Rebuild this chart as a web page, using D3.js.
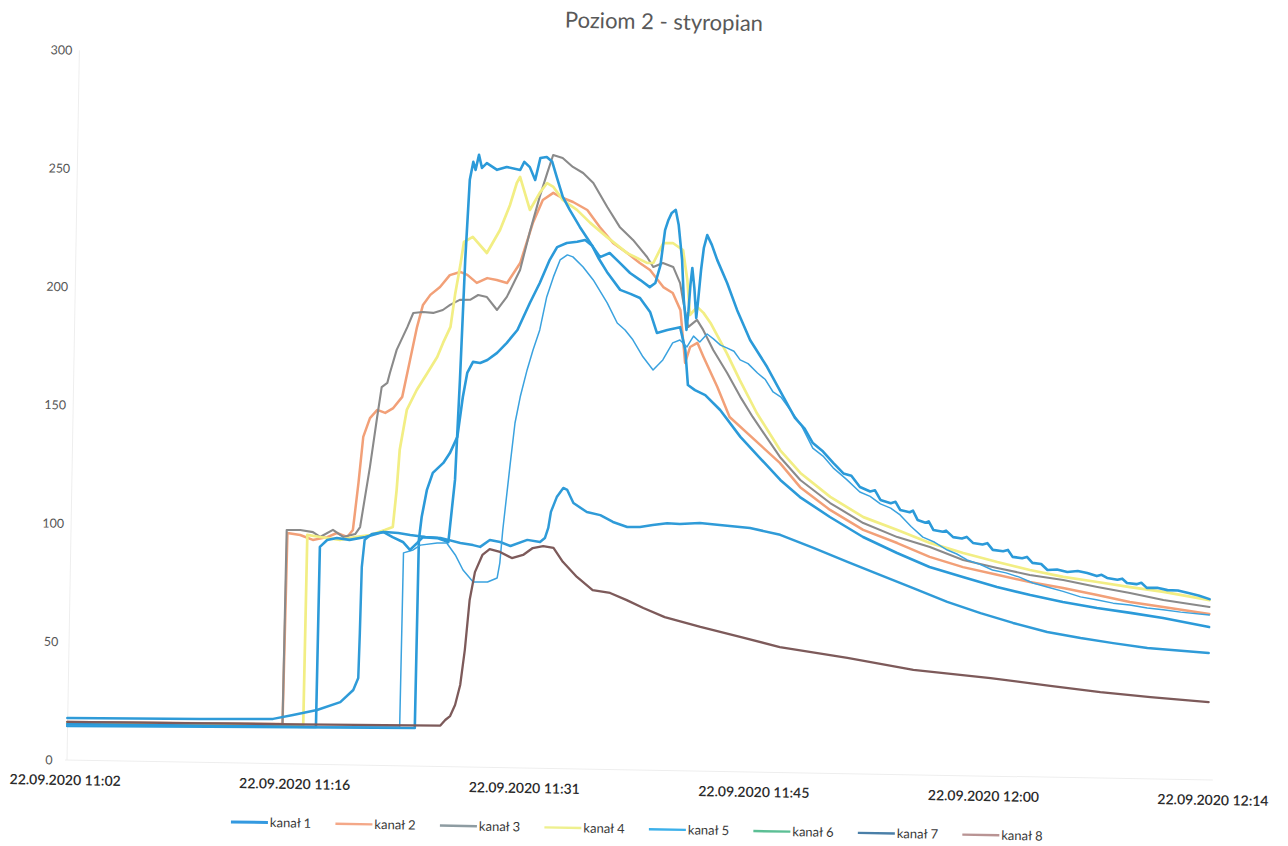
<!DOCTYPE html>
<html>
<head>
<meta charset="utf-8">
<script src="https://cdn.jsdelivr.net/npm/d3@7"></script>
<style>
  html, body { margin: 0; padding: 0; background: #ffffff; }
  svg { display: block; }
  text { font-family: Lato, "Open Sans", "Liberation Sans", sans-serif; }
</style>
</head>
<body>
<svg id="chart" width="1288" height="846"></svg>
<script>
// ---------------- DATA ----------------
const chartTitle = "Poziom 2 - styropian";
const seriesNames = ["kanał 1", "kanał 2", "kanał 3", "kanał 4", "kanał 5", "kanał 6", "kanał 7", "kanał 8"];
const startTime = [2020, 8, 22, 11, 2];         // 22.09.2020 11:02
const xTickMinutes = [0, 14.4, 28.8, 43.2, 57.6, 72];
const xTickLabels = ["22.09.2020 11:02", "22.09.2020 11:16", "22.09.2020 11:31",
                     "22.09.2020 11:45", "22.09.2020 12:00", "22.09.2020 12:14"];
const yTicks = [0, 50, 100, 150, 200, 250, 300];

// [minutes after 11:02, temperature]
const kanal1 = [[0.1,15.2],[15.7,15.8],[15.75,91.9],[16.2,94.9],[16.8,95.8],[17.6,95.1],[18.6,96.4],[19.7,98.7],[20.3,96.6],[20.95,94.6],[21.4,91.3],[21.85,94.3],[22.2,96.8],[23.1,96.5],[23.8,94.9],[24.15,121.2],[24.35,163.5],[24.55,214.2],[24.75,248.1],[24.95,255.7],[25.1,252.3],[25.3,258.7],[25.5,253.2],[25.8,255.3],[26.45,252.5],[27.05,253.8],[27.9,252.6],[28.15,256.1],[28.5,253.9],[28.85,248.5],[29.15,257.8],[29.55,258.3],[29.9,256.3],[30.2,249.9],[30.6,241.6],[31.05,236.1],[31.7,229.0],[32.55,220.6],[33.0,216.4],[33.6,218.2],[34.25,214.1],[34.9,209.9],[35.55,207.0],[36.15,204.1],[36.5,205.9],[36.8,213.5],[37.05,228.3],[37.25,232.6],[37.45,235.6],[37.7,236.9],[37.9,230.5],[38.15,215.8],[38.3,199.0],[38.5,186.3],[38.6,193.9],[38.7,205.3],[38.8,212.5],[38.95,204.0],[39.1,191.4],[39.2,199.0],[39.35,211.7],[39.5,221.0],[39.7,226.5],[40.0,222.4],[40.35,216.1],[41.0,206.4],[41.65,195.1],[42.5,182.5],[43.6,171.2],[44.65,158.7],[45.4,149.9],[46.0,145.6],[46.55,139.4],[47.2,135.9],[47.85,131.2],[48.5,126.8],[49.0,125.9],[49.55,121.2],[50.2,119.4],[50.5,119.9],[50.85,115.9],[51.5,114.6],[51.8,115.2],[52.1,111.8],[52.7,110.9],[52.9,111.6],[53.2,107.7],[53.7,106.6],[53.9,107.2],[54.2,103.6],[54.8,102.9],[55.0,103.4],[55.45,100.7],[56.0,100.2],[56.3,100.9],[56.7,98.4],[57.3,97.8],[57.6,98.4],[57.95,95.6],[58.6,95.1],[58.9,95.7],[59.2,92.8],[59.8,92.3],[60.1,92.9],[60.45,90.4],[61.0,90.0],[61.4,87.5],[62.0,87.8],[62.65,86.8],[63.3,87.3],[63.9,86.5],[64.5,85.3],[64.8,85.9],[65.15,84.6],[65.8,83.9],[66.1,84.4],[66.4,82.6],[67.0,82.2],[67.3,82.8],[67.65,80.7],[68.3,80.8],[68.95,79.9],[69.6,79.8],[70.2,78.9],[70.9,77.9],[71.6,76.4]];
const kanal2 = [[0.1,16.1],[13.6,16.8],[13.7,97.5],[14.5,96.8],[15.3,94.8],[16.2,96.1],[16.8,97.9],[17.45,96.3],[17.8,99.3],[18.1,119.2],[18.35,138.7],[18.75,146.7],[19.2,150.2],[19.7,149.0],[20.2,151.1],[20.75,155.9],[21.2,171.5],[21.6,185.5],[21.95,194.9],[22.4,199.2],[23.0,202.6],[23.6,207.7],[24.25,209.1],[24.7,207.9],[25.3,204.6],[25.95,206.7],[26.55,206.0],[27.2,204.8],[28.0,213.3],[28.75,230.3],[29.35,240.1],[30.0,243.2],[30.45,241.5],[31.25,239.5],[32.15,236.2],[32.95,229.1],[33.8,222.5],[34.7,218.3],[35.5,214.2],[36.15,211.3],[37.0,204.2],[37.6,201.8],[38.1,194.6],[38.3,182.0],[38.45,172.3],[38.75,179.1],[39.2,180.9],[39.6,175.0],[40.5,162.4],[41.3,149.8],[44.5,130.8],[45.8,120.7],[47.7,111.3],[49.8,103.1],[51.95,97.8],[54.0,92.2],[56.1,88.1],[58.25,85.1],[60.3,82.3],[62.4,80.0],[64.55,77.3],[66.6,74.6],[68.7,72.7],[71.6,70.1]];
const kanal3 = [[0.1,16.1],[13.6,16.8],[13.65,98.8],[14.5,98.9],[15.3,98.1],[15.75,96.1],[16.55,99.2],[17.2,96.3],[17.95,97.6],[18.25,100.6],[18.8,126.0],[19.2,147.2],[19.45,159.9],[19.8,161.7],[19.95,165.9],[20.35,175.7],[21.0,185.5],[21.35,191.4],[21.95,191.9],[22.6,191.6],[23.2,192.9],[23.65,195.1],[24.25,197.3],[24.9,197.4],[25.4,199.5],[25.95,198.7],[26.6,193.3],[27.2,198.9],[28.0,210.4],[28.6,227.3],[29.15,241.4],[29.6,251.6],[29.95,259.2],[30.55,258.0],[31.2,254.3],[31.85,251.8],[32.5,247.7],[33.4,237.6],[34.2,229.3],[35.05,223.9],[35.95,216.8],[36.35,212.6],[36.95,214.4],[37.6,212.8],[38.05,206.0],[38.25,198.9],[38.6,187.5],[39.15,190.6],[39.55,186.4],[40.2,178.0],[41.1,168.4],[41.95,158.4],[42.75,150.0],[44.5,133.3],[45.8,123.7],[47.7,114.2],[49.8,106.0],[51.95,100.3],[54.0,96.4],[56.1,91.1],[58.25,88.0],[60.3,85.3],[62.4,83.4],[64.55,80.7],[66.6,78.4],[68.7,75.7],[71.6,73.1]];
const kanal4 = [[0.1,15.6],[14.9,16.5],[14.95,96.9],[15.75,96.1],[17.0,95.0],[17.95,96.3],[18.9,97.3],[19.8,99.5],[20.3,100.9],[20.5,116.5],[20.65,133.5],[21.05,150.4],[21.65,158.9],[22.3,166.2],[22.9,173.0],[23.25,179.0],[23.7,185.8],[23.95,199.4],[24.25,212.0],[24.45,221.8],[25.0,224.0],[25.9,217.3],[26.7,227.1],[27.3,237.8],[27.7,247.1],[27.9,249.7],[28.55,235.8],[29.15,243.1],[29.6,247.3],[30.0,245.7],[30.6,240.3],[31.5,236.2],[32.35,230.8],[33.4,225.0],[34.7,218.3],[35.95,214.3],[36.35,214.3],[36.95,222.8],[37.55,222.9],[38.2,220.0],[38.5,207.4],[38.7,192.6],[39.15,196.1],[39.55,193.6],[40.0,189.4],[41.05,176.8],[41.9,165.5],[43.0,151.7],[44.5,136.2],[45.8,126.7],[47.7,116.8],[49.8,108.5],[51.95,103.3],[54.0,98.1],[56.1,94.1],[58.25,90.5],[60.3,87.4],[62.4,84.7],[64.55,82.8],[66.6,80.9],[68.7,79.1],[71.6,76.0]];
const kanal5 = [[0.1,14.8],[20.95,16.4],[21.0,90.0],[21.6,91.3],[22.05,93.4],[23.1,94.4],[23.7,94.5],[24.25,89.5],[24.75,83.2],[25.4,78.2],[26.3,78.3],[26.9,80.1],[27.05,86.4],[27.2,100.4],[27.6,128.8],[27.85,145.7],[28.15,156.8],[28.55,168.2],[28.9,176.7],[29.3,185.2],[29.7,199.2],[30.1,207.7],[30.5,214.9],[30.95,217.1],[31.3,216.3],[31.95,212.1],[32.6,206.7],[33.5,197.1],[34.15,188.7],[34.65,185.8],[35.15,181.7],[35.8,174.6],[36.45,169.1],[37.05,173.4],[37.65,180.7],[38.1,182.0],[38.55,179.1],[38.95,183.7],[39.35,181.3],[39.8,184.7],[40.2,182.7],[40.65,180.1],[41.05,179.0],[41.5,177.6],[41.9,174.0],[42.4,172.5],[43.0,168.6],[43.5,165.9],[44.0,160.7],[44.5,158.6],[45.1,153.2],[45.8,146.9],[46.55,137.3],[47.2,134.0],[47.85,129.1],[48.7,124.3],[49.55,119.1],[50.2,117.3],[50.85,114.2],[51.5,112.5],[52.1,109.7],[52.8,104.9],[53.55,100.5],[54.3,98.4],[55.1,95.2],[55.7,93.6],[56.35,91.2],[57.2,89.3],[57.95,87.1],[58.8,86.0],[59.65,84.3],[60.5,81.9],[61.4,80.3],[62.4,78.6],[63.5,76.4],[64.5,75.3],[65.55,74.0],[66.6,73.3],[67.7,72.2],[68.7,71.6],[69.8,70.7],[71.6,69.7]];
const kanal6 = [[0.1,14.4],[21.9,16.1],[21.95,95.6],[22.1,105.3],[22.4,116.8],[22.75,124.0],[23.4,128.3],[23.8,132.5],[24.25,139.4],[24.55,156.3],[24.8,166.5],[25.15,171.2],[25.6,170.8],[26.05,172.1],[26.65,175.2],[27.25,179.5],[27.9,185.0],[28.65,196.5],[29.25,205.0],[29.85,214.9],[30.3,220.3],[30.9,222.1],[31.55,222.7],[32.05,223.5],[32.5,221.1],[32.9,216.0],[33.45,210.2],[34.3,202.7],[34.95,201.1],[35.55,199.4],[36.2,193.6],[36.65,184.8],[37.3,186.1],[38.1,187.4],[38.45,177.8],[38.65,163.0],[39.1,160.9],[39.75,158.9],[40.7,152.7],[42.0,141.5],[43.25,132.7],[44.55,123.6],[45.8,116.5],[47.7,108.3],[49.8,100.1],[51.95,93.6],[54.0,87.9],[56.1,83.9],[58.25,80.0],[60.35,76.8],[62.4,74.1],[64.55,71.8],[66.65,70.0],[68.7,68.1],[71.6,64.6]];
const kanal7 = [[0.1,17.8],[8.45,18.3],[13.0,18.9],[14.25,20.7],[15.75,23.0],[17.2,26.5],[18.0,31.7],[18.3,36.8],[18.35,55.9],[18.4,83.7],[18.55,95.2],[19.0,97.8],[19.8,98.7],[20.65,98.4],[21.4,97.6],[22.35,96.9],[23.3,96.6],[24.55,94.6],[25.35,93.8],[25.8,93.1],[26.4,96.1],[27.05,95.3],[27.7,93.7],[28.75,96.4],[29.55,95.6],[29.85,97.3],[30.05,101.6],[30.2,108.4],[30.55,114.7],[30.95,118.6],[31.2,117.8],[31.6,112.3],[32.45,108.6],[33.3,107.4],[34.1,104.6],[35.0,102.6],[35.8,102.7],[36.6,103.6],[37.5,104.5],[38.3,104.2],[39.55,104.8],[40.8,104.1],[42.7,103.1],[44.6,100.4],[46.7,95.1],[48.85,89.5],[50.9,84.2],[53.0,78.9],[55.15,73.3],[57.25,68.8],[59.3,64.9],[61.45,61.3],[63.55,59.0],[65.6,57.1],[67.75,55.3],[71.6,53.6]];
const kanal8 = [[0.1,16.1],[14.7,16.8],[23.5,17.3],[23.8,19.7],[24.1,21.4],[24.4,26.1],[24.7,34.6],[24.95,49.4],[25.2,70.6],[25.5,82.4],[25.95,89.7],[26.4,92.2],[27.05,91.1],[27.8,88.6],[28.5,90.0],[29.1,93.0],[29.75,93.9],[30.4,93.2],[31.0,87.4],[31.9,81.1],[32.9,75.7],[34.0,74.6],[35.05,71.7],[36.1,68.5],[37.45,64.8],[39.7,60.9],[42.2,57.0],[44.7,53.0],[48.95,48.9],[53.1,44.3],[57.95,41.4],[61.7,38.6],[64.85,36.3],[68.0,34.6],[71.65,32.9]];

const seriesData = [kanal1, kanal2, kanal3, kanal4, kanal5, kanal6, kanal7, kanal8];
const lineColors   = ["#2b9ad9", "#f2a078", "#8a8a8a", "#f2ee84", "#3aa2df", "#2b9ad9", "#2f9bd8", "#7d5a5a"];
const legendColors = ["#3399e0", "#f4a888", "#8e9ca2", "#eef08e", "#3cb0ea", "#5cbf95", "#4a7fa8", "#b99494"];
const lineWidths   = [2.6, 2.5, 2.1, 2.7, 1.5, 2.6, 2.5, 2.3];

// ---------------- CHART ----------------
const svg = d3.select("#chart");
const t0 = new Date(startTime[0], startTime[1], startTime[2], startTime[3], startTime[4]);
const toDate = m => new Date(t0.getTime() + m * 60000);

const x = d3.scaleTime().domain([toDate(0), toDate(72)]).range([65, 1213]);
const y = d3.scaleLinear().domain([0, 300]).range([760, 50]);

// the scanned page is slightly tilted
const root = svg.append("g").attr("transform", "rotate(1, 65, 760)");

// title
root.append("text")
  .attr("x", 651).attr("y", 19)
  .attr("text-anchor", "middle")
  .attr("font-size", 22)
  .attr("fill", "#595959")
  .text(chartTitle);

// faint axis lines
root.append("line").attr("x1", 67).attr("x2", 67).attr("y1", y(300)).attr("y2", y(0))
  .attr("stroke", "#eeeeee").attr("stroke-width", 1);
root.append("line").attr("x1", 65).attr("x2", 1213).attr("y1", y(0)).attr("y2", y(0))
  .attr("stroke", "#eeeeee").attr("stroke-width", 1);

// y axis
const yAxis = d3.axisLeft(y).tickValues(yTicks).tickSize(0).tickPadding(0);
const gy = root.append("g").attr("transform", "translate(53,0)").call(yAxis);
gy.select(".domain").remove();
gy.selectAll("text").attr("font-size", 12.5).attr("fill", "#555555")
  .attr("font-family", "Lato, sans-serif").attr("text-anchor", "middle").attr("dx", "-4");

// x axis
const xAxis = d3.axisBottom(x)
  .tickValues(xTickMinutes.map(toDate))
  .tickFormat((d, i) => xTickLabels[i])
  .tickSize(0).tickPadding(0);
const gx = root.append("g").attr("transform", "translate(0,775)").call(xAxis);
gx.select(".domain").remove();
gx.selectAll("text").attr("font-size", 14).attr("fill", "#2b2b2b")
  .attr("font-family", "Lato, sans-serif").attr("font-weight", 600);

// lines
const line = d3.line().x(d => x(toDate(d[0]))).y(d => y(d[1]));
const order = [1, 2, 3, 6, 5, 4, 0, 7];
order.forEach(i => {
  root.append("path")
    .datum(seriesData[i])
    .attr("fill", "none")
    .attr("stroke", lineColors[i])
    .attr("stroke-width", lineWidths[i])
    .attr("stroke-linejoin", "round")
    .attr("stroke-linecap", "round")
    .attr("d", line);
});

// legend
const legend = root.append("g").attr("transform", "translate(0,819)");
seriesNames.forEach((name, i) => {
  const lx = 232 + i * 104.5;
  const g = legend.append("g").attr("transform", `translate(${lx},0)`);
  g.append("line").attr("x1", 0).attr("x2", 37).attr("y1", 0).attr("y2", 0)
    .attr("stroke", legendColors[i]).attr("stroke-width", i === 0 ? 3 : 2.4);
  g.append("text").attr("x", 39).attr("y", 4.5)
    .attr("font-size", 13).attr("fill", "#3a3a3a")
    .attr("font-family", "Lato, sans-serif")
    .text(name);
});
</script>
</body>
</html>
